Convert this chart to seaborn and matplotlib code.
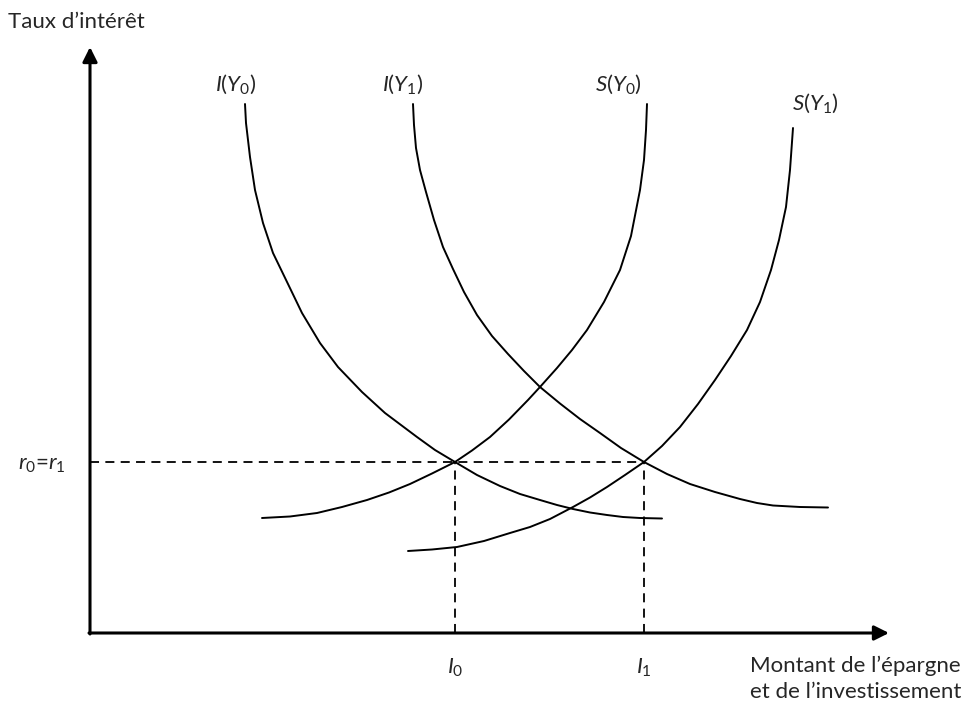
import matplotlib
matplotlib.use("Agg")
import matplotlib.pyplot as plt
import seaborn as sns

# points (x = quantity, y = interest rate)
i_y0_x = [155, 156, 160, 165, 173, 183, 198, 212, 230, 248, 272, 295, 327, 345, 365,
          387, 410, 430, 450, 467, 483, 500, 517, 533, 550, 572]
i_y0_y = [529, 510, 476, 443, 410, 380, 349, 320, 290, 266, 241, 220, 196, 183, 171,
          158, 147, 139, 133, 128, 124, 120.5, 118, 116, 115, 114.5]

i_y1_x = [323, 324, 326, 330, 336, 344, 353, 363, 374, 387, 402, 418, 434, 450, 470,
          490, 510, 531, 554, 577, 600, 625, 650, 667, 683, 710, 738]
i_y1_y = [529, 508, 485, 463, 441, 413, 386, 364, 341, 318, 297, 279, 262, 246, 229.5,
          214, 200, 185, 171, 159, 149, 141, 134, 130, 127.5, 126, 125.5]

s_y0_x = [172, 200, 227, 252, 277, 299, 320, 342, 365, 382, 400, 419, 438, 450, 467,
          482, 497, 514, 530, 541, 550, 554, 556, 557]
s_y0_y = [115, 116.5, 120, 126, 133, 140.5, 149, 159.5, 171, 182.5, 196, 213.5, 233, 246, 265,
          283, 303, 331, 363, 397, 443, 473, 503, 529]

s_y1_x = [318, 342, 367, 394, 420, 440, 460, 483, 500, 517, 535, 554, 572, 590, 608,
          625, 641, 657, 670, 681, 689, 696, 700, 703]
s_y1_y = [82, 83.5, 86, 92, 100, 106, 114, 126, 135.5, 146, 158, 171, 187, 206, 229,
          253, 277, 303, 331, 363, 393, 426, 463, 505]

r_eq = 171
i_eq = [365, 554]
i_labels = [r"$I_{0}$", r"$I_{1}$"]

curve_labels = [r"$I(Y_{0})$", r"$I(Y_{1})$", r"$S(Y_{0})$", r"$S(Y_{1})$"]
label_pos = [(146, 549), (313, 549), (528, 549), (725, 530)]

sns.set_theme(style="white")
plt.rcParams["font.family"] = ["Lato", "DejaVu Sans"]
plt.rcParams["mathtext.fontset"] = "custom"
plt.rcParams["mathtext.rm"] = "Lato"
plt.rcParams["mathtext.it"] = "Lato:italic"

fig = plt.figure(figsize=(9.69, 7.07), dpi=100)
ax = fig.add_axes([0, 0, 1, 1])
ax.set_xlim(-90, 879)
ax.set_ylim(-74, 633)
ax.axis("off")

for xs, ys in [(i_y0_x, i_y0_y), (i_y1_x, i_y1_y), (s_y0_x, s_y0_y), (s_y1_x, s_y1_y)]:
    sns.lineplot(x=xs, y=ys, sort=False, estimator=None, color="black", lw=1.4, ax=ax)

# dashed guides
ax.plot([0, i_eq[1]], [r_eq, r_eq], color="black", lw=1.3, dashes=(5, 3.5))
for xi in i_eq:
    ax.plot([xi, xi], [0, r_eq], color="black", lw=1.3, dashes=(5, 3.5))

# axes with arrows
arrow = dict(arrowstyle="-|>", lw=2.2, color="black", mutation_scale=22, shrinkA=0, shrinkB=0)
ax.annotate("", xy=(0, 586), xytext=(0, -1), arrowprops=arrow)
ax.annotate("", xy=(799, 0), xytext=(-1, 0), arrowprops=arrow)

fs = 16
for lab, (lx, ly) in zip(curve_labels, label_pos):
    ax.text(lx, ly, lab, ha="center", va="center", fontsize=fs)
for lab, xi in zip(i_labels, i_eq):
    ax.text(xi, -35, lab, ha="center", va="center", fontsize=fs)

ax.text(-72, 168, r"$r_{0}$=$r_{1}$", ha="left", va="center", fontsize=fs)
ax.text(-82, 611, "Taux d’intérêt", ha="left", va="center", fontsize=fs)
ax.text(660, -33, "Montant de l’épargne", ha="left", va="center", fontsize=fs)
ax.text(660, -59, "et de l’investissement", ha="left", va="center", fontsize=fs)

fig.savefig("out.png", dpi=100)
